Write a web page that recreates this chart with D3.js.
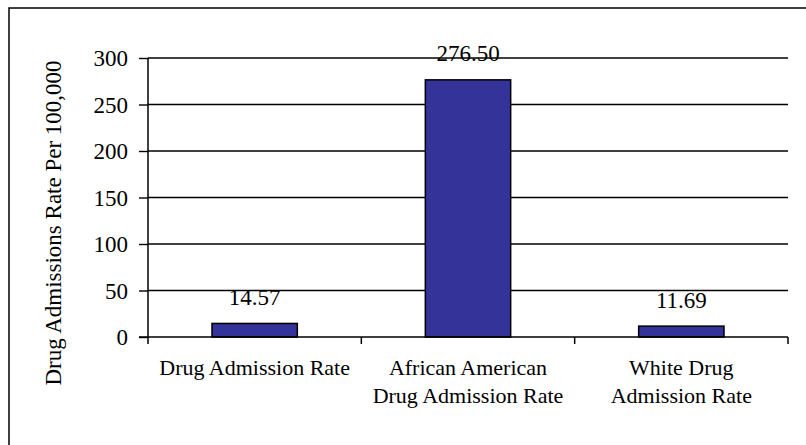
<!DOCTYPE html>
<html>
<head>
<meta charset="utf-8">
<script src="https://cdn.jsdelivr.net/npm/d3@7"></script>
</head>
<body style="margin:0;padding:0;background:#fff">
<svg id="chart" width="806" height="445" style="display:block"></svg>
<script>
// ---- data ----
const categories = ["Drug Admission Rate", "African American Drug Admission Rate", "White Drug Admission Rate"];
const categoryLines = [["Drug Admission Rate"], ["African American", "Drug Admission Rate"], ["White Drug", "Admission Rate"]];
const values = [14.57, 276.50, 11.69];
const valueLabels = ["14.57", "276.50", "11.69"];
const yTicks = [0, 50, 100, 150, 200, 250, 300];
const yTitle = "Drug Admissions Rate Per 100,000";

// ---- layout ----
const W = 806, H = 445;
const plot = { left: 148, right: 788, top: 58, bottom: 337 };
const FONT = '"Liberation Serif", "Times New Roman", serif';

const svg = d3.select("#chart");

// outer border (chart area)
svg.append("rect")
  .attr("x", 9).attr("y", 8)
  .attr("width", W + 10).attr("height", H + 10)
  .attr("fill", "#fff").attr("stroke", "#000").attr("stroke-width", 1.5);

const x = d3.scaleBand().domain(categories).range([plot.left, plot.right]).padding(0);
const y = d3.scaleLinear().domain([0, 300]).range([plot.bottom, plot.top]);

// gridlines
svg.append("g").selectAll("line").data(yTicks.filter(d => d > 0)).join("line")
  .attr("x1", plot.left).attr("x2", plot.right)
  .attr("y1", d => y(d)).attr("y2", d => y(d))
  .attr("stroke", "#000").attr("stroke-width", 1.4);

// y axis
const yAxis = d3.axisLeft(y).tickValues(yTicks).tickSize(9).tickPadding(11).tickFormat(d3.format("d"));
const gy = svg.append("g").attr("transform", `translate(${plot.left},0)`).call(yAxis);
gy.attr("font-family", null).attr("font-size", null);
gy.select(".domain").remove();
gy.append("line").attr("x1", 0).attr("x2", 0).attr("y1", plot.top).attr("y2", plot.bottom)
  .attr("stroke", "#000").attr("stroke-width", 1.5);
gy.selectAll(".tick line").attr("stroke", "#000").attr("stroke-width", 1.4);
gy.selectAll(".tick text")
  .style("font-family", FONT).style("font-size", "23px")
  .attr("fill", "#000").attr("dy", "0.34em");

// bars
const barFrac = 0.4;
svg.append("g").selectAll("rect").data(values).join("rect")
  .attr("x", (d, i) => x(categories[i]) + x.bandwidth() * (1 - barFrac) / 2)
  .attr("width", x.bandwidth() * barFrac)
  .attr("y", d => y(d))
  .attr("height", d => y(0) - y(d))
  .attr("fill", "#333399").attr("stroke", "#000").attr("stroke-width", 1.5);

// x axis line and ticks
const gx = svg.append("g");
gx.append("line").attr("x1", plot.left - 9).attr("x2", plot.right)
  .attr("y1", plot.bottom).attr("y2", plot.bottom)
  .attr("stroke", "#000").attr("stroke-width", 1.5);
const boundaries = categories.map(c => x(c)).concat([x(categories[categories.length - 1]) + x.bandwidth()]);
gx.selectAll("line.xt").data(boundaries).join("line").attr("class", "xt")
  .attr("x1", d => d).attr("x2", d => d)
  .attr("y1", plot.bottom).attr("y2", plot.bottom + 7)
  .attr("stroke", "#000").attr("stroke-width", 1.5);

// category labels
const cl = svg.append("g").selectAll("text").data(categoryLines).join("text")
  .attr("text-anchor", "middle")
  .style("font-family", FONT).style("font-size", "22px")
  .attr("x", (d, i) => x(categories[i]) + x.bandwidth() / 2)
  .attr("y", 375);
cl.each(function(lines, i) {
  const t = d3.select(this);
  lines.forEach((ln, j) => {
    t.append("tspan").attr("x", x(categories[i]) + x.bandwidth() / 2)
      .attr("y", 375 + j * 27.5).text(ln);
  });
});

// value labels
svg.append("g").selectAll("text").data(values).join("text")
  .attr("text-anchor", "middle")
  .style("font-family", FONT).style("font-size", "23px")
  .attr("x", (d, i) => x(categories[i]) + x.bandwidth() / 2)
  .attr("y", d => y(d) - 18.5)
  .text((d, i) => valueLabels[i]);

// y title
svg.append("text")
  .attr("transform", `translate(61,${223}) rotate(-90)`)
  .attr("text-anchor", "middle")
  .style("font-family", FONT).style("font-size", "23px")
  .text(yTitle);
</script>
</body>
</html>
